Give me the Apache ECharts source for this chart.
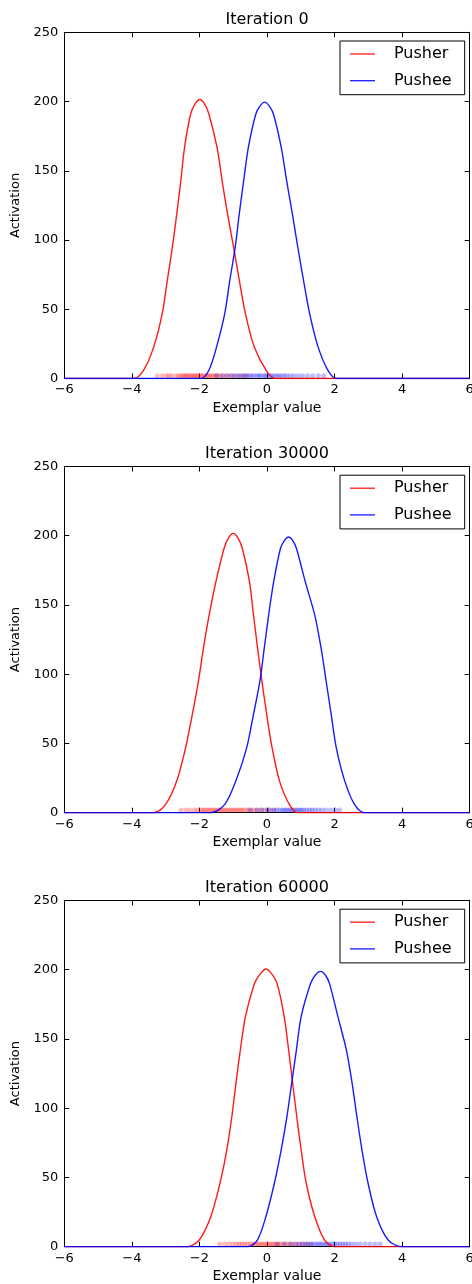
<!DOCTYPE html>
<html><head><meta charset="utf-8">
<script src="https://cdn.jsdelivr.net/npm/echarts@6/dist/echarts.min.js"></script>
<style>html,body{margin:0;padding:0;background:#fff}#c{width:472px;height:1284px}</style>
</head><body><div id="c"></div>
<script>
// ---- data ----
const titles = ['Iteration 0', 'Iteration 30000', 'Iteration 60000'];
const seriesNames = ['Pusher', 'Pushee'];
const xTickValues = [-6, -4, -2, 0, 2, 4, 6];
const yTickValues = [0, 50, 100, 150, 200, 250];

// Iteration 0
const pusher0X = [-6, -3.94, -3.65, -3.35, -3.10, -2.95, -2.80, -2.67, -2.55, -2.44, -2.26, -2.14, -1.99, -1.84, -1.72, -1.48, -1.33, -1.17, -0.99, -0.82, -0.64, -0.38, 0.0, 0.25, 6];
const pusher0Y = [0, 0, 6, 23, 47, 71, 95, 119, 143, 167, 191, 198, 201.5, 198, 191, 167, 143, 119, 95, 71, 47, 23, 5, 0, 0];
const pushee0X = [-6, -1.96, -1.72, -1.49, -1.25, -1.10, -0.94, -0.82, -0.69, -0.55, -0.33, -0.20, -0.07, 0.06, 0.19, 0.42, 0.58, 0.75, 0.91, 1.08, 1.26, 1.51, 1.80, 2.05, 6];
const pushee0Y = [0, 0, 6, 23, 47, 71, 95, 119, 143, 167, 191, 197, 199.6, 197, 191, 167, 143, 119, 95, 71, 47, 23, 6, 0, 0];
const rugPusher0 = [-3.25, -3.1, -2.98, -2.9, -2.82, -2.7, -2.62, -2.55, -2.5, -2.44, -2.4, -2.35, -2.3, -2.24, -2.2, -2.15, -2.1, -2.05, -2.0, -1.96, -1.9, -1.85, -1.8, -1.74, -1.7, -1.64, -1.58, -1.52, -1.45, -1.4, -1.3, -1.2, -1.1, -0.98, -0.85, -0.72, -0.6];
const rugPushee0 = [-1.5, -1.32, -1.18, -1.05, -0.95, -0.85, -0.76, -0.68, -0.6, -0.52, -0.45, -0.38, -0.3, -0.24, -0.18, -0.1, -0.04, 0.02, 0.08, 0.15, 0.22, 0.3, 0.36, 0.44, 0.52, 0.6, 0.7, 0.8, 0.92, 1.05, 1.2, 1.35, 1.52, 1.68];

// Iteration 30000
const pusher1X = [-6, -3.35, -3.0, -2.67, -2.41, -2.21, -2.03, -1.88, -1.71, -1.51, -1.27, -1.15, -1.0, -0.85, -0.73, -0.52, -0.40, -0.28, -0.15, -0.01, 0.15, 0.37, 0.66, 0.91, 6];
const pusher1Y = [0, 0, 6, 23, 47, 71, 95, 119, 143, 167, 191, 198, 201.7, 198, 191, 167, 143, 119, 95, 71, 47, 23, 6, 0, 0];
const pushee1X = [-6, -1.66, -1.25, -0.92, -0.60, -0.40, -0.21, -0.08, 0.05, 0.20, 0.40, 0.53, 0.64, 0.75, 0.87, 1.13, 1.41, 1.60, 1.75, 1.90, 2.05, 2.30, 2.59, 2.89, 6];
const pushee1Y = [0, 0, 6, 23, 47, 71, 95, 119, 143, 167, 191, 197, 199.1, 197, 191, 167, 143, 119, 95, 71, 47, 23, 6, 0, 0];
const rugPusher1 = [-2.55, -2.4, -2.28, -2.15, -2.05, -1.96, -1.9, -1.84, -1.78, -1.72, -1.66, -1.6, -1.54, -1.48, -1.42, -1.36, -1.3, -1.24, -1.18, -1.12, -1.06, -1.0, -0.94, -0.88, -0.82, -0.76, -0.7, -0.62, -0.55, -0.46, -0.38, -0.28, -0.18, -0.08, 0.05, 0.2];
const rugPushee1 = [-0.5, -0.3, -0.15, 0.0, 0.1, 0.2, 0.28, 0.36, 0.44, 0.5, 0.56, 0.62, 0.68, 0.74, 0.8, 0.86, 0.92, 0.98, 1.04, 1.1, 1.18, 1.26, 1.34, 1.42, 1.52, 1.62, 1.74, 1.88, 2.02, 2.15];

// Iteration 60000
const pusher2X = [-6, -2.36, -2.0, -1.66, -1.39, -1.19, -1.04, -0.92, -0.79, -0.64, -0.37, -0.20, -0.03, 0.14, 0.30, 0.51, 0.64, 0.76, 0.88, 1.01, 1.16, 1.41, 1.70, 2.0, 6];
const pusher2Y = [0, 0, 5, 22, 46, 70, 94, 118, 142, 166, 190, 197, 200.5, 197, 190, 166, 142, 118, 94, 70, 46, 22, 5, 0, 0];
const pushee2X = [-6, -0.57, -0.28, -0.03, 0.22, 0.42, 0.59, 0.73, 0.87, 1.01, 1.29, 1.43, 1.58, 1.73, 1.85, 2.10, 2.35, 2.52, 2.66, 2.81, 2.99, 3.24, 3.58, 3.98, 6];
const pushee2Y = [0, 0, 5, 22, 46, 70, 94, 118, 142, 166, 190, 196, 198.8, 196, 190, 166, 142, 118, 94, 70, 46, 22, 5, 0, 0];
const rugPusher2 = [-1.4, -1.25, -1.12, -1.0, -0.9, -0.82, -0.74, -0.66, -0.58, -0.5, -0.42, -0.36, -0.3, -0.24, -0.18, -0.12, -0.06, 0.0, 0.06, 0.12, 0.18, 0.24, 0.3, 0.36, 0.42, 0.5, 0.58, 0.66, 0.74, 0.84, 0.94, 1.05, 1.18, 1.3];
const rugPushee2 = [0.3, 0.52, 0.7, 0.84, 0.96, 1.06, 1.14, 1.22, 1.3, 1.38, 1.45, 1.52, 1.58, 1.65, 1.72, 1.78, 1.85, 1.92, 2.0, 2.08, 2.16, 2.24, 2.32, 2.4, 2.5, 2.62, 2.75, 2.9, 3.05, 3.2, 3.35];
const rugLevel = 2;

// ---- chart ----
const curves = [
  [[pusher0X, pusher0Y], [pushee0X, pushee0Y]],
  [[pusher1X, pusher1Y], [pushee1X, pushee1Y]],
  [[pusher2X, pusher2Y], [pushee2X, pushee2Y]]
];
const rugs = [[rugPusher0, rugPushee0], [rugPusher1, rugPushee1], [rugPusher2, rugPushee2]];
const lineColors = ['rgba(255,0,0,0.9)', 'rgba(0,0,255,0.9)'];
const rugColors = ['rgba(255,0,0,0.32)', 'rgba(0,0,255,0.32)'];
const FONT = 'DejaVu Sans';
const gridTops = [32.3, 466.5, 900.5];
const GL = 64.3, GW = 405.4, GH = 346.2;
const fmtMinus = v => String(v).replace('-', '\u2212');
const LINE_ICON = 'path://M0,0L25,0L25,1.3L0,1.3Z';

const option = {
  animation: false,
  backgroundColor: '#fff',
  title: [], legend: [], grid: [], xAxis: [], yAxis: [], series: []
};
const zip = (xs, ys) => xs.map((x, i) => [x, ys[i]]);

gridTops.forEach((top, g) => {
  option.grid.push({left: GL, top: top, width: GW, height: GH, show: false, containLabel: false, outerBoundsMode: 'none'});
  option.title.push({
    text: titles[g], left: GL + GW / 2, top: top - 20.5, textAlign: 'center', padding: 0,
    textStyle: {fontFamily: FONT, fontSize: 16, fontWeight: 'normal', color: '#000', lineHeight: 16}
  });
  option.legend.push({
    data: seriesNames.map(n => ({name: n, icon: LINE_ICON})),
    orient: 'vertical', left: 340, top: top + 8.7,
    padding: [5, 13, 6, 10], itemGap: 10.7, itemWidth: 25, itemHeight: 14, symbolKeepAspect: true,
    borderColor: '#000', borderWidth: 1, borderRadius: 0, backgroundColor: '#fff',
    textStyle: {fontFamily: FONT, fontSize: 16, color: '#000', lineHeight: 16, padding: [0, 0, 0, 14]}
  });
  const common = {gridIndex: g, type: 'value', splitLine: {show: false},
    axisLine: {show: true, onZero: false, lineStyle: {color: '#000', width: 1}},
    axisTick: {show: true, inside: true, length: 5, lineStyle: {color: '#000'}}};
  const xBase = Object.assign({}, common, {min: -6, max: 6, interval: 2});
  const yBase = Object.assign({}, common, {min: 0, max: 250, interval: 50});
  option.xAxis.push(Object.assign({}, xBase, {
    position: 'bottom', name: 'Exemplar value', nameLocation: 'middle', nameGap: 23,
    nameTextStyle: {fontFamily: FONT, fontSize: 14, color: '#000'},
    axisLabel: {fontFamily: FONT, fontSize: 13, color: '#000', margin: 5, showMinLabel: true, showMaxLabel: true,
      formatter: fmtMinus, customValues: xTickValues}
  }));
  option.xAxis.push(Object.assign({}, xBase, {position: 'top', axisLabel: {show: false}}));
  option.yAxis.push(Object.assign({}, yBase, {
    position: 'left', name: 'Activation', nameLocation: 'middle', nameGap: 33, nameRotate: 90,
    nameTextStyle: {fontFamily: FONT, fontSize: 13, color: '#000'},
    axisLabel: {fontFamily: FONT, fontSize: 13, color: '#000', margin: 6, showMinLabel: true, showMaxLabel: true,
      customValues: yTickValues}
  }));
  option.yAxis.push(Object.assign({}, yBase, {position: 'right', axisLabel: {show: false}}));

  const xi = g * 2, yi = g * 2;
  [0, 1].forEach(s => {
    option.series.push({
      name: seriesNames[s] + ' exemplars', type: 'scatter', xAxisIndex: xi, yAxisIndex: yi,
      data: rugs[g][s].map(x => [x, rugLevel]), symbol: 'circle', symbolSize: 5,
      itemStyle: {color: rugColors[s]}, silent: true, z: 1
    });
  });
  [0, 1].forEach(s => {
    option.series.push({
      name: seriesNames[s], type: 'line', xAxisIndex: xi, yAxisIndex: yi,
      data: zip(curves[g][s][0], curves[g][s][1]), smooth: 0.3, symbol: 'none', showSymbol: false,
      lineStyle: {color: lineColors[s], width: 1.4}, itemStyle: {color: lineColors[s]}, clip: true, z: 3
    });
  });
});

const chart = echarts.init(document.getElementById('c'), null, {renderer: 'canvas'});
chart.setOption(option);
</script></body></html>
